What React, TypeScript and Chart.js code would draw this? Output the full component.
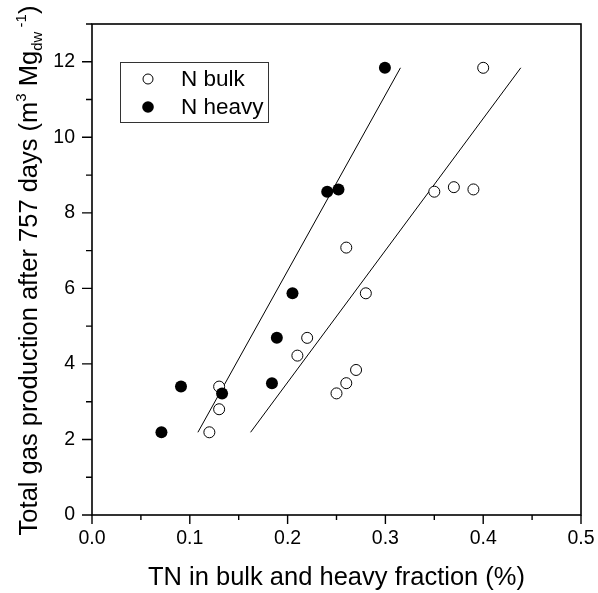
import React, { useEffect, useRef } from "react";
import { Chart, registerables } from "chart.js";

Chart.register(...registerables);

// ---- data ----
const bulkX = [0.12, 0.13, 0.13, 0.21, 0.22, 0.25, 0.26, 0.27, 0.26, 0.28, 0.35, 0.37, 0.39, 0.40];
const bulkY = [2.19, 2.80, 3.40, 4.22, 4.69, 3.22, 3.49, 3.84, 7.08, 5.87, 8.56, 8.68, 8.62, 11.84];
const heavyX = [0.071, 0.091, 0.133, 0.184, 0.189, 0.205, 0.2405, 0.252, 0.2995];
const heavyY = [2.19, 3.40, 3.22, 3.49, 4.69, 5.87, 8.56, 8.62, 11.84];
const seriesNames = ["N bulk", "N heavy"];
const xTickValues = [0, 0.1, 0.2, 0.3, 0.4, 0.5];
const xMinorValues = [0.05, 0.15, 0.25, 0.35, 0.45];
const yTickValues = [0, 2, 4, 6, 8, 10, 12];
const yMinorValues = [1, 3, 5, 7, 9, 11, 13];
const xRange = [0, 0.5];
const yRange = [0, 13];
const xTitle = "TN in bulk and heavy fraction (%)";
// y title pieces: [text, kind] kind: n = normal, sup, sub
const yTitleParts: [string, string][] = [
  ["Total gas production after 757 days (m", "n"],
  ["3", "sup"],
  [" Mg", "n"],
  ["dw", "sub"],
  [" -1", "sup"],
  [")", "n"],
];

const FONT = "'Liberation Sans', Arial, Helvetica, sans-serif";

function fitXonY(xs: number[], ys: number[]) {
  const n = xs.length;
  const mx = xs.reduce((a, b) => a + b, 0) / n;
  const my = ys.reduce((a, b) => a + b, 0) / n;
  let sxy = 0;
  let syy = 0;
  for (let i = 0; i < n; i++) {
    sxy += (xs[i] - mx) * (ys[i] - my);
    syy += (ys[i] - my) * (ys[i] - my);
  }
  const b = sxy / syy;
  const a = mx - b * my;
  const y0 = Math.min(...ys);
  const y1 = Math.max(...ys);
  return [
    { x: a + b * y0, y: y0 },
    { x: a + b * y1, y: y1 },
  ];
}

const decorPlugin = {
  id: "decor",
  afterDraw(chart: any) {
    const { ctx, chartArea } = chart;
    const xs = chart.scales.x;
    const ys = chart.scales.y;
    const { left, right, top, bottom } = chartArea;
    ctx.save();
    // frame
    ctx.strokeStyle = "#000";
    ctx.lineWidth = 1.6;
    ctx.strokeRect(left, top, right - left, bottom - top);
    // ticks
    ctx.lineWidth = 1.4;
    ctx.beginPath();
    xTickValues.forEach((v) => {
      const p = xs.getPixelForValue(v);
      ctx.moveTo(p, bottom);
      ctx.lineTo(p, bottom + 9);
    });
    xMinorValues.forEach((v) => {
      const p = xs.getPixelForValue(v);
      ctx.moveTo(p, bottom);
      ctx.lineTo(p, bottom + 5);
    });
    yTickValues.forEach((v) => {
      const p = ys.getPixelForValue(v);
      ctx.moveTo(left, p);
      ctx.lineTo(left - 10, p);
    });
    yMinorValues.forEach((v) => {
      const p = ys.getPixelForValue(v);
      ctx.moveTo(left, p);
      ctx.lineTo(left - 6, p);
    });
    ctx.stroke();

    // legend
    const lx = left + 28;
    const ly = top + 38;
    const lw = 148;
    const lh = 60;
    ctx.lineWidth = 1;
    ctx.strokeStyle = "#333";
    ctx.strokeRect(lx + 0.5, ly + 0.5, lw, lh);
    const rows = [ly + 17, ly + 45];
    ctx.font = `22.5px ${FONT}`;
    ctx.textBaseline = "middle";
    ctx.textAlign = "left";
    rows.forEach((ry, i) => {
      ctx.beginPath();
      ctx.arc(lx + 28, ry, i === 0 ? 5 : 5.8, 0, Math.PI * 2);
      if (i === 0) {
        ctx.fillStyle = "#fff";
        ctx.fill();
        ctx.strokeStyle = "#000";
        ctx.lineWidth = 1;
        ctx.stroke();
      } else {
        ctx.fillStyle = "#000";
        ctx.fill();
      }
      ctx.fillStyle = "#000";
      ctx.fillText(seriesNames[i], lx + 61, ry + 1);
    });

    // y title with super/subscripts
    const base = 25.5;
    const small = 15;
    const fontFor = (k: string) => `${k === "n" ? base : small}px ${FONT}`;
    let total = 0;
    yTitleParts.forEach(([t, k]) => {
      ctx.font = fontFor(k);
      total += ctx.measureText(t).width;
    });
    ctx.translate(37, (top + bottom) / 2 + total / 2 + 1);
    ctx.rotate(-Math.PI / 2);
    ctx.textBaseline = "alphabetic";
    ctx.fillStyle = "#000";
    let cx = 0;
    yTitleParts.forEach(([t, k]) => {
      ctx.font = fontFor(k);
      const dy = k === "sup" ? -11 : k === "sub" ? 5 : 0;
      ctx.fillText(t, cx, dy);
      cx += ctx.measureText(t).width;
    });
    ctx.restore();
  },
};

const zeroPad = (s: any) => {
  s.paddingLeft = 0;
  s.paddingRight = 0;
  s.paddingTop = 0;
  s.paddingBottom = 0;
};

export default function App() {
  const ref = useRef<HTMLCanvasElement | null>(null);
  useEffect(() => {
    if (!ref.current) return;
    const bulkPts = bulkX.map((x, i) => ({ x, y: bulkY[i] }));
    const heavyPts = heavyX.map((x, i) => ({ x, y: heavyY[i] }));
    const chart = new Chart(ref.current, {
      type: "scatter",
      data: {
        datasets: [
          {
            label: seriesNames[0],
            data: bulkPts,
            pointStyle: "circle",
            pointRadius: 5.5,
            pointBackgroundColor: "#fff",
            pointBorderColor: "#000",
            pointBorderWidth: 1,
            showLine: false,
            order: 1,
          },
          {
            label: seriesNames[1],
            data: heavyPts,
            pointStyle: "circle",
            pointRadius: 6,
            pointBackgroundColor: "#000",
            pointBorderColor: "#000",
            pointBorderWidth: 0,
            showLine: false,
            order: 0,
          },
          {
            label: "fit bulk",
            data: fitXonY(bulkX, bulkY),
            showLine: true,
            borderColor: "#000",
            borderWidth: 1,
            pointRadius: 0,
            order: 3,
          },
          {
            label: "fit heavy",
            data: fitXonY(heavyX, heavyY),
            showLine: true,
            borderColor: "#000",
            borderWidth: 1,
            pointRadius: 0,
            order: 3,
          },
        ],
      },
      options: {
        animation: false,
        responsive: false,
        devicePixelRatio: 1,
        layout: { padding: { top: 24, right: 17, left: 0, bottom: 0 } },
        plugins: {
          legend: { display: false },
          tooltip: { enabled: false },
        },
        scales: {
          x: {
            type: "linear",
            min: xRange[0],
            max: xRange[1],
            afterFit: (s: any) => {
              s.height = 78;
              zeroPad(s);
            },
            afterBuildTicks: (s: any) => {
              s.ticks = xTickValues.map((v) => ({ value: v }));
            },
            grid: { display: false, drawTicks: false, tickLength: 0 },
            border: { display: false },
            ticks: {
              color: "#000",
              font: { family: FONT, size: 19.5 },
              padding: 12,
              maxRotation: 0,
              autoSkip: false,
              callback: (v: any) => Number(v).toFixed(1),
            },
            title: {
              display: true,
              text: xTitle,
              color: "#000",
              font: { family: FONT, size: 25.5 },
              padding: { top: 0, bottom: 0 },
            },
          },
          y: {
            type: "linear",
            min: yRange[0],
            max: yRange[1],
            afterFit: (s: any) => {
              s.width = 92;
              zeroPad(s);
            },
            afterBuildTicks: (s: any) => {
              s.ticks = yTickValues.map((v) => ({ value: v }));
            },
            grid: { display: false, drawTicks: false, tickLength: 0 },
            border: { display: false },
            ticks: {
              color: "#000",
              font: { family: FONT, size: 19.5 },
              padding: 17,
              autoSkip: false,
              callback: (v: any) => String(v),
            },
            title: { display: false },
          },
        },
      },
      plugins: [decorPlugin],
    });
    return () => chart.destroy();
  }, []);
  return (
    <div style={{ position: "absolute", left: 0, top: 0, width: 598, height: 593, background: "#fff" }}>
      <canvas ref={ref} width={598} height={593} style={{ width: 598, height: 593, display: "block" }} />
    </div>
  );
}
